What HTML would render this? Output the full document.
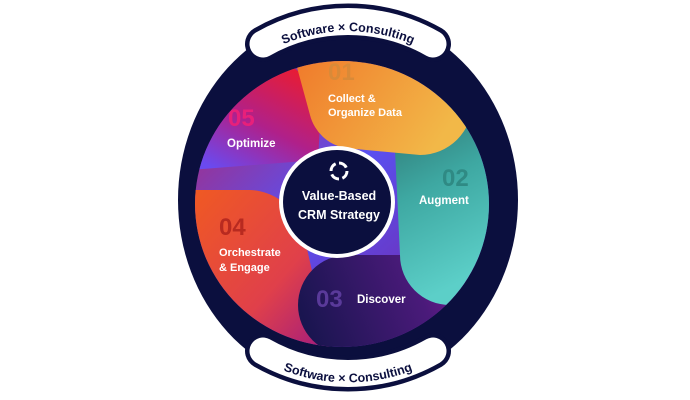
<!DOCTYPE html>
<html><head><style>
html,body{margin:0;padding:0;background:#fff;width:690px;height:400px;overflow:hidden}
svg{display:block}
text{font-family:"Liberation Sans",sans-serif;font-weight:bold}
</style></head><body>
<svg width="690" height="400" viewBox="0 0 690 400">
<defs>
<clipPath id="disc"><ellipse cx="342" cy="204" rx="147" ry="143"/></clipPath>
<linearGradient id="base" x1="0" y1="0" x2="1" y2="1">
<stop offset="0" stop-color="#c0205a"/><stop offset="0.45" stop-color="#5a50f0"/><stop offset="1" stop-color="#7a1a90"/></linearGradient>
<linearGradient id="g05" x1="0.8" y1="0" x2="0.2" y2="1">
<stop offset="0" stop-color="#ee1c2a"/><stop offset="0.55" stop-color="#b0208a"/><stop offset="1" stop-color="#6a4af0"/></linearGradient>
<linearGradient id="g01" x1="0" y1="0" x2="1" y2="0.4">
<stop offset="0" stop-color="#f0782a"/><stop offset="1" stop-color="#f2b848"/></linearGradient>
<linearGradient id="g02" x1="0" y1="0" x2="0.3" y2="1">
<stop offset="0" stop-color="#2a6a68"/><stop offset="0.5" stop-color="#3ea8a2"/><stop offset="1" stop-color="#5ccfc8"/></linearGradient>
<linearGradient id="g03" x1="0" y1="0.5" x2="1" y2="0.3">
<stop offset="0" stop-color="#1a1550"/><stop offset="0.6" stop-color="#4a1a7a"/><stop offset="1" stop-color="#9a1aa0"/></linearGradient>
<linearGradient id="g04" x1="0" y1="0" x2="1" y2="1">
<stop offset="0" stop-color="#f05a22"/><stop offset="0.6" stop-color="#e0404a"/><stop offset="1" stop-color="#a01a80"/></linearGradient>
</defs>
<ellipse cx="348" cy="200" rx="170" ry="187" fill="#0b0f3e"/>
<g clip-path="url(#disc)">
<rect x="190" y="55" width="310" height="300" fill="url(#base)"/>
<path d="M190 60 L268 60 A55 58 0 0 1 320 125 L318 160 L190 170 Z" fill="url(#g05)"/>
<path d="M250 190 A58 58 0 0 1 305 240 L330 350 L190 350 L190 190 Z" fill="url(#g04)"/>
<path d="M348 255 L500 255 L500 355 L348 355 A50 50 0 0 1 348 255 Z" fill="url(#g03)"/>
<path d="M380 100 L500 100 L500 255 A46 46 0 0 1 400 255 L395 150 Z" fill="url(#g02)"/>
<path d="M305 50 L420 50 A52 52 0 0 1 420 155 L345 148 A45 45 0 0 1 310 115 L295 60 Z" fill="url(#g01)"/>
</g>
<ellipse cx="337" cy="202" rx="58" ry="56" fill="#fff"/>
<ellipse cx="337" cy="202" rx="54" ry="52" fill="#0b0f3e"/>
<circle cx="339" cy="171" r="8" fill="none" stroke="#fff" stroke-width="3" stroke-dasharray="9 3.5"/>
<text x="339" y="200" fill="#fff" font-size="12.5" text-anchor="middle">Value-Based</text>
<text x="339" y="219" fill="#fff" font-size="12.5" text-anchor="middle">CRM Strategy</text>

<text x="328" y="80" fill="#d98a38" font-size="24" font-weight="normal">01</text>
<text x="328" y="102" fill="#fff" font-size="11">Collect &amp;</text>
<text x="328" y="116" fill="#fff" font-size="11">Organize Data</text>
<text x="442" y="186" fill="#2f8a84" font-size="24" font-weight="normal">02</text>
<text x="419" y="204" fill="#fff" font-size="11.5">Augment</text>
<text x="316" y="307" fill="#5a3a9a" font-size="24" font-weight="normal">03</text>
<text x="357" y="303" fill="#fff" font-size="11.5">Discover</text>
<text x="219" y="235" fill="#b82a20" font-size="24" font-weight="normal">04</text>
<text x="219" y="256" fill="#fff" font-size="11">Orchestrate</text>
<text x="219" y="271" fill="#fff" font-size="11">&amp; Engage</text>
<text x="228" y="126" fill="#e8207a" font-size="24" font-weight="normal">05</text>
<text x="227" y="147" fill="#fff" font-size="11.5">Optimize</text>

<g transform="translate(0,-7)">
<path d="M 263 51 A 172 172 0 0 1 433 51" stroke="#0b0f3e" stroke-width="36" fill="none" stroke-linecap="round"/>
<path d="M 263 51 A 172 172 0 0 1 433 51" stroke="#fff" stroke-width="27" fill="none" stroke-linecap="round"/>
<path id="tpTop" d="M 250 70 A 167 167 0 0 1 446 70" fill="none"/>
<text font-size="12.5" fill="#0b0f3e"><textPath href="#tpTop" startOffset="50%" text-anchor="middle">Software × Consulting</textPath></text>
</g>
<g transform="translate(0,2)">
<path d="M 263 349 A 172 172 0 0 0 433 349" stroke="#0b0f3e" stroke-width="36" fill="none" stroke-linecap="round"/>
<path d="M 263 349 A 172 172 0 0 0 433 349" stroke="#fff" stroke-width="27" fill="none" stroke-linecap="round"/>
<path id="tpBot" d="M 245 348 A 180 180 0 0 0 451 348" fill="none"/>
<text font-size="12.5" fill="#0b0f3e"><textPath href="#tpBot" startOffset="50%" text-anchor="middle">Software × Consulting</textPath></text>
</g>
</svg>
</body></html>
